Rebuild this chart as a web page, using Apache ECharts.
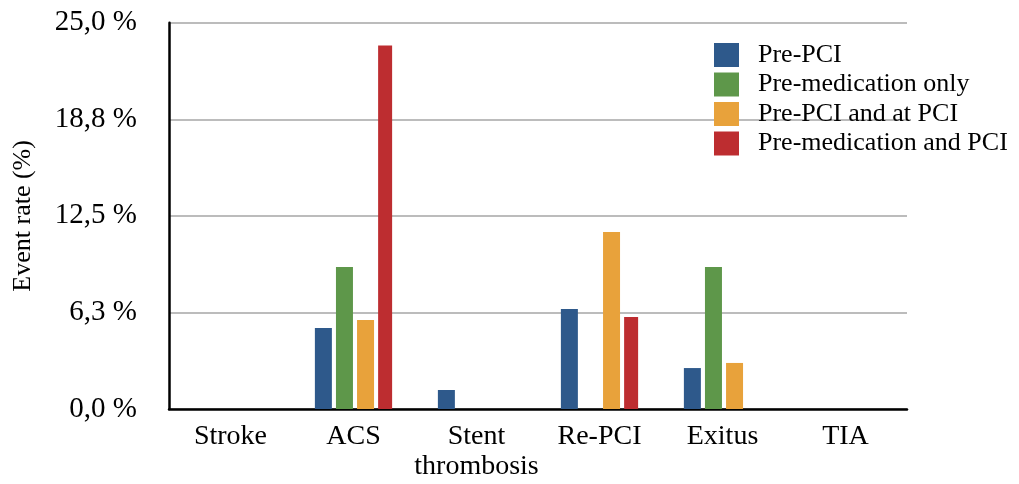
<!DOCTYPE html>
<html><head><meta charset="utf-8">
<script src="https://cdn.jsdelivr.net/npm/echarts@6/dist/echarts.min.js"></script>
<style>html,body{margin:0;padding:0;background:#fff}#c{width:1019px;height:484px}</style>
</head><body><div id="c"></div>
<script>
const categories = ['Stroke', 'ACS', 'Stent\nthrombosis', 'Re-PCI', 'Exitus', 'TIA'];
const seriesNames = ['Pre-PCI', 'Pre-medication only', 'Pre-PCI and at PCI', 'Pre-medication and PCI'];
const prePCI = [0, 5.24, 1.23, 6.47, 2.65, 0];
const preMedOnly = [0, 9.19, 0, 0, 9.19, 0];
const prePCIandAtPCI = [0, 5.76, 0, 11.46, 2.98, 0];
const preMedAndPCI = [0, 23.53, 0, 5.95, 0, 0];
const yTicks = [0, 6.25, 12.5, 18.75, 25];
const colors = ['#2e598b', '#5e974a', '#e8a23b', '#bd2d30'];

const font = 'Liberation Serif';
const values = [prePCI, preMedOnly, prePCIandAtPCI, preMedAndPCI];
const widths = [17, 17, 17, 14];
const chart = echarts.init(document.getElementById('c'), null, {renderer: 'canvas'});
chart.setOption({
  animation: false,
  grid: {left: 169, right: 112, top: 22.7, bottom: 75, containLabel: false},
  legend: {
    orient: 'vertical', left: 709, top: 37, icon: 'rect',
    itemWidth: 25, itemHeight: 24, itemGap: 3.5,
    textStyle: {fontFamily: font, fontSize: 26, lineHeight: 24, color: '#000', padding: [0, 0, 0, 14]},
    data: seriesNames
  },
  xAxis: {
    type: 'category', data: categories,
    axisTick: {show: false},
    axisLine: {lineStyle: {color: '#000', width: 2.5}},
    axisLabel: {fontFamily: font, fontSize: 28, color: '#000', margin: 13, lineHeight: 29.5, interval: 0}
  },
  yAxis: {
    type: 'value', min: yTicks[0], max: yTicks[yTicks.length - 1], interval: yTicks[1] - yTicks[0],
    name: 'Event rate (%)', nameLocation: 'middle', nameGap: 133,
    nameTextStyle: {fontFamily: font, fontSize: 26, color: '#000'},
    axisLine: {show: true, lineStyle: {color: '#000', width: 2.5}},
    axisTick: {show: false},
    splitLine: {lineStyle: {color: '#bcbcbc', width: 2.2}},
    axisLabel: {
      fontFamily: font, fontSize: 29, color: '#000', margin: 32,
      formatter: v => v.toFixed(1).replace('.', ',') + ' %'
    }
  },
  series: seriesNames.map((n, i) => ({
    name: n, type: 'bar', data: values[i], barWidth: widths[i], barGap: '24%',
    itemStyle: {color: colors[i]}
  }))
});
</script></body></html>
